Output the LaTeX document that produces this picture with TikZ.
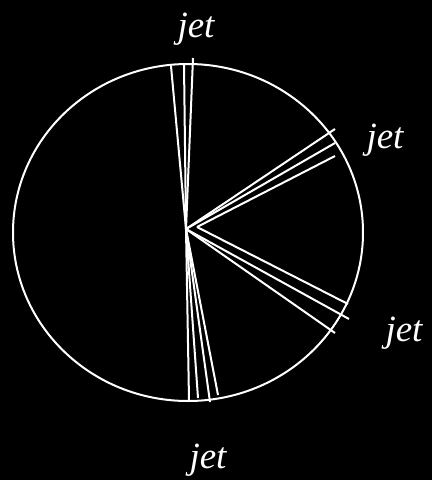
\documentclass[tikz,border=0pt]{standalone}
\usepackage{fontspec}
\setmainfont{Liberation Serif}

\begin{document}
\begin{tikzpicture}[x=1pt, y=-1pt, line width=2pt, white,
  jetlabel/.style={font=\fontsize{37}{42}\selectfont\itshape, text=white}]
  \fill[black] (0,0) rectangle (432,480);
  \useasboundingbox (0,0) rectangle (432,480);
  \draw (188,232.5) ellipse [x radius=175, y radius=168.5];
  \coordinate (v) at (186,229);
  \coordinate (w) at (197,227);
  % top jet
  \foreach \p in {(171,66), (184,64), (193,58)}
    \draw (v) -- \p;
  % upper right jet
  \draw (v) -- (335,129);
  \draw (v) -- (335,143);
  \draw (w) -- (335,156);
  % lower right jet
  \draw (w) -- (348,304);
  \draw (v) -- (349,319);
  \draw (v) -- (335,333);
  % bottom jet
  \foreach \p in {(189,400), (198,398), (210,402), (218,395)}
    \draw (v) -- \p;
  \node[jetlabel] (jettop) at (196,29) {jet};
  \node[jetlabel] (jetur) at (385,140) {jet};
  \node[jetlabel] (jetlr) at (404,333) {jet};
  \node[jetlabel] (jetbot) at (208,460) {jet};
\end{tikzpicture}
\end{document}
